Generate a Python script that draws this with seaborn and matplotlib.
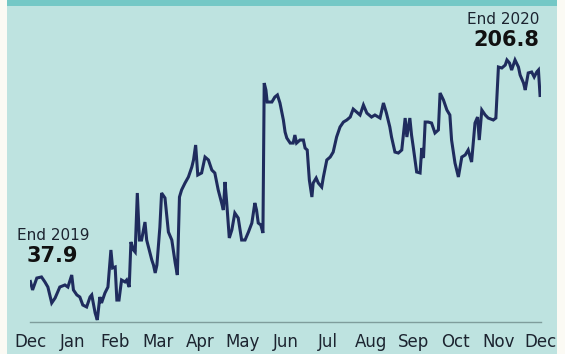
import matplotlib
matplotlib.use("Agg")
import matplotlib.pyplot as plt
from matplotlib.patches import Rectangle
import seaborn as sns
import pandas as pd

# ---- data ----
month_labels = ["Dec", "Jan", "Feb", "Mar", "Apr", "May", "Jun",
                "Jul", "Aug", "Sep", "Oct", "Nov", "Dec"]

# position along the time axis, in months from the first "Dec" tick
month_pos = [
    0.00, 0.06, 0.16, 0.27, 0.35, 0.42, 0.51, 0.59, 0.70, 0.82,
    0.89, 0.98, 1.02, 1.10, 1.17, 1.24, 1.33, 1.41, 1.45, 1.53,
    1.58, 1.64, 1.68, 1.76, 1.83, 1.90, 1.94, 2.00, 2.04, 2.09,
    2.15, 2.23, 2.27, 2.33, 2.37, 2.43, 2.47, 2.52, 2.57, 2.62,
    2.70, 2.74, 2.86, 2.90, 2.94, 2.98, 3.05, 3.09, 3.17, 3.25,
    3.33, 3.41, 3.46, 3.51, 3.56, 3.64, 3.72, 3.80, 3.84, 3.89,
    3.94, 4.03, 4.11, 4.19, 4.27, 4.34, 4.42, 4.50, 4.54, 4.58,
    4.62, 4.68, 4.74, 4.81, 4.89, 4.97, 5.05, 5.13, 5.21, 5.28,
    5.32, 5.36, 5.42, 5.47, 5.50, 5.54, 5.57, 5.68, 5.75, 5.81,
    5.87, 5.95, 5.99, 6.03, 6.11, 6.18, 6.22, 6.26, 6.34, 6.42,
    6.46, 6.51, 6.56, 6.62, 6.65, 6.72, 6.77, 6.85, 6.89, 6.97,
    7.05, 7.12, 7.20, 7.28, 7.36, 7.44, 7.52, 7.59, 7.67, 7.75,
    7.83, 7.91, 8.02, 8.10, 8.22, 8.30, 8.37, 8.45, 8.49, 8.57,
    8.65, 8.73, 8.81, 8.85, 8.92, 8.96, 9.00, 9.08, 9.16, 9.20,
    9.24, 9.28, 9.35, 9.43, 9.51, 9.59, 9.63, 9.71, 9.79, 9.86,
    9.90, 9.98, 10.06, 10.14, 10.22, 10.29, 10.37, 10.45, 10.51, 10.55,
    10.61, 10.69, 10.76, 10.88, 10.94, 11.00, 11.08, 11.16, 11.20, 11.26,
    11.31, 11.39, 11.47, 11.51, 11.59, 11.63, 11.70, 11.78, 11.84, 11.90,
    11.94, 11.98,
]

index_value = [
    37.9, 28.7, 39.7, 40.7, 36.1, 31.4, 16.7, 21.3, 31.4, 33.3,
    31.4, 42.5, 28.7, 24.1, 22.2, 14.8, 13.0, 22.2, 24.1, 7.4,
    1.0, 22.2, 16.7, 25.9, 31.4, 65.6, 49.0, 49.9, 19.4, 19.4,
    37.9, 36.1, 37.9, 31.4, 73.0, 65.6, 63.7, 118.2, 74.8, 74.8,
    91.4, 74.8, 56.4, 51.7, 44.4, 51.7, 86.8, 118.2, 113.6, 82.2,
    74.8, 53.6, 42.5, 114.5, 121.0, 127.4, 133.0, 142.2, 148.7, 162.5,
    134.8, 136.7, 151.4, 148.7, 139.4, 136.7, 121.0, 109.0, 102.5, 128.4,
    109.0, 76.7, 84.1, 99.7, 95.1, 74.8, 74.8, 82.2, 90.5, 109.0,
    102.5, 90.5, 88.7, 81.3, 219.7, 213.3, 202.2, 202.2, 206.8, 208.7,
    201.3, 185.6, 174.5, 169.0, 164.3, 164.3, 171.7, 164.3, 167.1, 167.1,
    159.7, 157.9, 130.2, 114.5, 127.4, 132.0, 127.4, 123.7, 133.0, 148.7,
    151.4, 156.0, 169.9, 179.1, 183.7, 185.6, 188.3, 195.7, 193.0, 190.2,
    199.4, 192.0, 188.3, 190.2, 187.4, 201.3, 192.0, 179.1, 169.9, 156.0,
    155.1, 157.9, 187.4, 169.9, 187.4, 171.7, 160.7, 137.6, 136.7, 159.7,
    150.5, 183.7, 183.7, 182.8, 173.6, 176.4, 210.5, 204.0, 194.8, 190.2,
    167.1, 145.9, 133.0, 151.4, 153.3, 157.9, 146.8, 182.8, 188.3, 167.1,
    194.8, 190.2, 187.4, 185.6, 187.4, 234.5, 233.6, 236.3, 241.0, 238.2,
    231.7, 241.0, 234.5, 227.1, 219.7, 213.3, 229.0, 229.9, 225.3, 229.9,
    231.7, 206.8,
]

start_label = "End 2019"
start_value = "37.9"
end_label = "End 2020"
end_value = "206.8"

# ---- styling ----
W, H = 565, 354
BG = "#bee3e0"
BAR = "#74c8c6"
EDGE = "#fbfaf4"
LINE = "#1f2c5e"
AXC = "#7f9d9c"
TXT = "#1c2430"

sns.set_style("white")
plt.rcParams["font.family"] = ["DejaVu Sans"]

fig = plt.figure(figsize=(W / 100, H / 100), dpi=100)
fig.patch.set_facecolor(EDGE)
fig.add_artist(Rectangle((7 / W, 0), 550 / W, 1 - 6 / H, transform=fig.transFigure,
                         facecolor=BG, edgecolor="none", zorder=-2))
fig.add_artist(Rectangle((7 / W, 1 - 6 / H), 550 / W, 6 / H, transform=fig.transFigure,
                         facecolor=BAR, edgecolor="none", zorder=-2))

ax = fig.add_axes([30 / W, (H - 321.7) / H, 511 / W, (321.7 - 20) / H])
ax.set_facecolor("none")

df = pd.DataFrame({"month": month_pos, "value": index_value})
sns.lineplot(data=df, x="month", y="value", ax=ax, color=LINE, linewidth=2.2,
             solid_joinstyle="miter", solid_capstyle="butt")

ax.set_xlim(0, 12)
ax.set_ylim(-0.6, 277.9)
ax.set_xticks(range(len(month_labels)))
ax.set_xticklabels(month_labels, fontsize=12, color=TXT)
ax.set_yticks([])
ax.set_xlabel("")
ax.set_ylabel("")
for s in ["top", "right", "left"]:
    ax.spines[s].set_visible(False)
ax.spines["bottom"].set_color(AXC)
ax.spines["bottom"].set_linewidth(1.0)
ax.tick_params(axis="x", direction="out", length=5, width=1, color=AXC, pad=3)

# annotations
fig.text(17 / W, 1 - 236 / H, start_label, fontsize=11, color=TXT, ha="left", va="center")
fig.text(27 / W, 1 - 255.5 / H, start_value, fontsize=15, fontweight="bold", color="#111111",
         ha="left", va="center")
fig.text(539 / W, 1 - 20 / H, end_label, fontsize=11, color=TXT, ha="right", va="center")
fig.text(539 / W, 1 - 39.5 / H, end_value, fontsize=15, fontweight="bold", color="#111111",
         ha="right", va="center")

fig.savefig("out.png", dpi=100, facecolor=fig.get_facecolor())
